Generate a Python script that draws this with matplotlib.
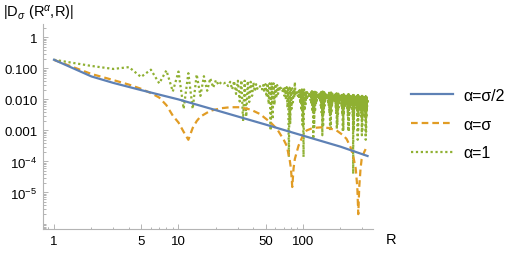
import numpy as np
import matplotlib
matplotlib.use('Agg')
import matplotlib.pyplot as plt
from matplotlib.ticker import FixedLocator, NullFormatter

plt.rcParams['font.family'] = ['Liberation Sans', 'DejaVu Sans']
plt.rcParams['mathtext.fontset'] = 'custom'
plt.rcParams['mathtext.rm'] = 'Liberation Sans'
plt.rcParams['mathtext.it'] = 'Liberation Sans:italic'

# alpha = sigma/2
r_half = [1, 2, 3, 5, 10, 20, 50, 100, 200, 330]
d_half = [0.19, 0.055, 0.034, 0.02, 0.0100, 0.0045, 0.00155, 0.00068, 0.0003, 0.00015]

# alpha = sigma
r_sig = [1, 2, 3, 4, 5, 6, 7, 8, 9, 10, 11, 12, 13, 14, 15, 18, 22, 26, 31, 38, 45, 55,
         62, 70, 74, 78, 80, 82, 84, 86, 92, 100, 107, 120, 140, 160, 186, 210, 224, 240,
         253, 265, 273, 278, 283, 290, 296, 310, 320, 330]
d_sig = [0.188, 0.066, 0.042, 0.03, 0.022, 0.016, 0.0115, 0.0065, 0.003, 0.0018, 0.0009,
         0.0005, 0.0012, 0.002, 0.0028, 0.0043, 0.0052, 0.0056, 0.0056, 0.0047, 0.0034,
         0.0018, 0.0011, 0.0005, 0.00032, 0.00012, 6e-5, 1.5e-5, 6e-5, 0.00012, 0.00032,
         0.0007, 0.001, 0.0012, 0.00126, 0.0012, 0.001, 0.0007, 0.00053, 0.0003, 0.00015,
         6e-5, 1.5e-5, 2e-6, 1.5e-5, 6e-5, 0.00012, 0.0002, 0.00026, 0.00032]

# alpha = 1, sampled at R = 1..330
r_one = list(range(1, 331))
d_one = [
    0.19, 0.12, 0.096, 0.11, 0.053, 0.091, 0.033, 0.086, 0.018, 0.079, 0.005, 0.07, 0.005, 0.064, 0.013, 0.056, 0.019, 0.048, 0.024, 0.042, 0.029, 0.036,
    0.033, 0.035, 0.027, 0.037, 0.021, 0.039, 0.015, 0.040, 0.0086, 0.041, 0.002, 0.040, 0.0028, 0.039, 0.0082, 0.037, 0.013, 0.035, 0.018, 0.031, 0.022, 0.027,
    0.026, 0.027, 0.021, 0.029, 0.017, 0.031, 0.012, 0.033, 0.0071, 0.033, 0.001, 0.033, 0.0023, 0.033, 0.0067, 0.031, 0.011, 0.029, 0.015, 0.026, 0.019, 0.024,
    0.021, 0.022, 0.017, 0.024, 0.013, 0.025, 0.0095, 0.025, 0.0055, 0.025, 0.00014, 0.024, 0.0017, 0.024, 0.005, 0.023, 0.008, 0.021, 0.011, 0.036, 0.014, 0.017,
    0.016, 0.017, 0.013, 0.018, 0.011, 0.020, 0.0074, 0.020, 0.0044, 0.021, 0.0015, 0.021, 0.00014, 0.021, 0.0044, 0.019, 0.007, 0.018, 0.0096, 0.017, 0.012, 0.015,
    0.014, 0.015, 0.012, 0.016, 0.0094, 0.018, 0.0068, 0.0185, 0.004, 0.019, 0.00053, 0.019, 0.0013, 0.019, 0.004, 0.018, 0.0066, 0.017, 0.009, 0.0157, 0.011, 0.014,
    0.013, 0.014, 0.011, 0.0154, 0.0087, 0.0166, 0.0063, 0.0174, 0.0038, 0.0178, 0.0007, 0.018, 0.0013, 0.0178, 0.0038, 0.0172, 0.0062, 0.0162, 0.0085, 0.0149, 0.0106, 0.0133,
    0.0124, 0.0132, 0.0104, 0.0145, 0.0083, 0.0157, 0.006, 0.0164, 0.0036, 0.0168, 0.0011, 0.017, 0.0012, 0.0168, 0.0036, 0.0162, 0.0059, 0.0153, 0.008, 0.014, 0.01, 0.0125,
    0.0117, 0.0125, 0.0098, 0.0137, 0.0078, 0.0147, 0.0056, 0.0155, 0.0034, 0.0158, 0.0011, 0.016, 0.0015, 0.0158, 0.0034, 0.0153, 0.0055, 0.0144, 0.0075, 0.0132, 0.0094, 0.0118,
    0.011, 0.0118, 0.0092, 0.0129, 0.0073, 0.0139, 0.0053, 0.0146, 0.0032, 0.015, 0.0009, 0.015, 0.001, 0.0149, 0.0031, 0.0143, 0.0052, 0.0135, 0.0071, 0.0123, 0.0088, 0.0111,
    0.0104, 0.0111, 0.0088, 0.0122, 0.007, 0.0132, 0.0051, 0.0139, 0.003, 0.0144, 0.001, 0.0145, 0.0009, 0.0144, 0.003, 0.0138, 0.005, 0.013, 0.0069, 0.012, 0.0085, 0.0108,
    0.0101, 0.0108, 0.0085, 0.0118, 0.0068, 0.0128, 0.0049, 0.0134, 0.0029, 0.0139, 0.00004, 0.014, 0.001, 0.0139, 0.0029, 0.0133, 0.0049, 0.0126, 0.0066, 0.0116, 0.0083, 0.0104,
    0.0097, 0.0104, 0.0082, 0.0114, 0.0065, 0.0124, 0.0048, 0.013, 0.0028, 0.0134, 0.0005, 0.0135, 0.0009, 0.0134, 0.0028, 0.013, 0.0047, 0.0122, 0.0064, 0.0113, 0.008, 0.0101,
    0.0094, 0.0101, 0.0079, 0.0111, 0.0063, 0.0119, 0.0046, 0.0126, 0.0027, 0.0129, 0.0007, 0.013, 0.0009, 0.0129, 0.0027, 0.0125, 0.0045, 0.0117, 0.0062, 0.0108, 0.0077, 0.0097,
    0.0091, 0.0097, 0.0076, 0.0107, 0.006, 0.0115, 0.0044, 0.0121, 0.0026, 0.0124, 0.0005, 0.0125, 0.0009, 0.0124, 0.0026, 0.0119, 0.0043, 0.0112, 0.0059, 0.0103, 0.0073, 0.0093,
]

labels = ['\u03b1=\u03c3/2', '\u03b1=\u03c3', '\u03b1=1']
x_ticks = [1, 5, 10, 50, 100]
y_ticks = [1, 0.1, 0.01, 0.001, 1e-4, 1e-5]
y_tick_labels = ['1', '0.100', '0.010', '0.001', '10$^{-4}$', '10$^{-5}$']

blue = '#5E81B5'
orange = '#E19C24'
green = '#8FB032'
axis_gray = '#b4b4b4'

fig = plt.figure(figsize=(5.18, 2.55), dpi=100)
ax = fig.add_axes([43 / 518, 1 - 229.5 / 255, 330 / 518, 204.5 / 255])

ax.plot(r_half, d_half, color=blue, lw=1.6, label=labels[0], zorder=3)
ax.plot(r_sig, d_sig, color=orange, lw=1.6, ls=(0, (3, 1.8)), label=labels[1], zorder=2)
ax.plot(r_one, d_one, color=green, lw=1.6, ls=(0, (1, 1.2)), label=labels[2], zorder=1)

ax.set_xscale('log')
ax.set_yscale('log')
ax.set_xlim(0.816, 365)
ax.set_ylim(6.9e-7, 2.7)

ax.xaxis.set_major_locator(FixedLocator(x_ticks))
ax.set_xticklabels([str(t) for t in x_ticks])
x_minor = [m * 10 ** e for e in range(-1, 3) for m in range(2, 10)] + [0.9]
ax.xaxis.set_minor_locator(FixedLocator(x_minor))
ax.xaxis.set_minor_formatter(NullFormatter())

ax.yaxis.set_major_locator(FixedLocator(y_ticks))
ax.set_yticklabels(y_tick_labels)
y_minor = [m * 10.0 ** e for e in range(-7, 1) for m in range(2, 10)] + [1e-6]
ax.yaxis.set_minor_locator(FixedLocator(y_minor))
ax.yaxis.set_minor_formatter(NullFormatter())

for side in ['top', 'right']:
    ax.spines[side].set_visible(False)
for side in ['left', 'bottom']:
    ax.spines[side].set_color(axis_gray)
    ax.spines[side].set_linewidth(0.8)

ax.tick_params(which='both', direction='in', color=axis_gray, width=0.7, labelsize=9.5)
ax.tick_params(which='major', length=3.5)
ax.tick_params(which='minor', length=1.8)
ax.tick_params(axis='y', pad=4)
ax.tick_params(axis='x', pad=5)

fig.text(3 / 518, 1 - 14 / 255, '|D$_{\\sigma}$ (R$^{\\alpha}$,R)|', fontsize=10.5,
         va='center', ha='left')
fig.text(386 / 518, 1 - 240 / 255, 'R', fontsize=10.5, va='center', ha='left')

fig.legend(loc='upper left', bbox_to_anchor=(411 / 518, 1 - 89 / 255), frameon=False,
           fontsize=11.5, handlelength=2.6, handletextpad=0.65, labelspacing=0.85,
           borderpad=0, borderaxespad=0)

fig.savefig('out.png', dpi=100)
